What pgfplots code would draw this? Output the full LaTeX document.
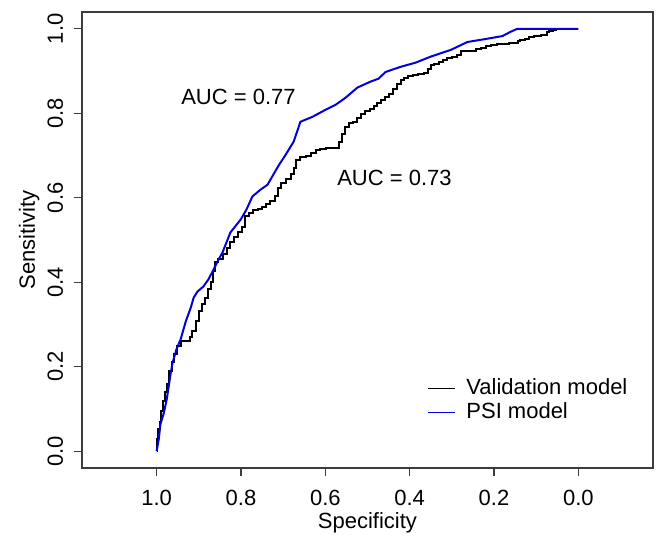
\documentclass[border=0pt]{standalone}
\usepackage{fontspec}
\setmainfont{Liberation Sans}
\usepackage{pgfplots}
\pgfplotsset{compat=1.18}

\definecolor{psiblue}{RGB}{0,0,215}
\definecolor{boxgray}{RGB}{60,60,60}

% ROC curves (specificity, sensitivity)
\pgfplotstableread{
spec sens
1.000 0.000
0.998 0.028
0.995 0.052
0.991 0.069
0.988 0.095
0.983 0.118
0.979 0.139
0.972 0.158
0.967 0.189
0.962 0.210
0.955 0.229
0.948 0.248
0.938 0.260
0.924 0.260
0.919 0.270
0.912 0.284
0.903 0.307
0.896 0.333
0.889 0.348
0.882 0.362
0.874 0.383
0.870 0.400
0.865 0.426
0.860 0.447
0.848 0.454
0.836 0.466
0.829 0.480
0.822 0.496
0.813 0.506
0.801 0.518
0.794 0.530
0.787 0.558
0.777 0.565
0.765 0.572
0.754 0.574
0.744 0.579
0.735 0.586
0.725 0.593
0.716 0.605
0.709 0.624
0.699 0.634
0.687 0.645
0.678 0.657
0.671 0.671
0.666 0.690
0.652 0.697
0.640 0.700
0.628 0.707
0.616 0.712
0.607 0.716
0.588 0.719
0.571 0.719
0.564 0.733
0.557 0.752
0.550 0.768
0.540 0.778
0.528 0.780
0.521 0.790
0.512 0.799
0.502 0.806
0.488 0.811
0.481 0.818
0.472 0.825
0.462 0.832
0.453 0.839
0.443 0.846
0.434 0.858
0.424 0.870
0.417 0.879
0.408 0.884
0.398 0.889
0.386 0.891
0.374 0.894
0.358 0.896
0.353 0.905
0.348 0.915
0.336 0.917
0.325 0.922
0.315 0.927
0.306 0.931
0.294 0.934
0.282 0.939
0.273 0.948
0.249 0.948
0.237 0.953
0.225 0.955
0.213 0.960
0.201 0.962
0.185 0.965
0.145 0.967
0.142 0.972
0.133 0.974
0.121 0.976
0.114 0.981
0.097 0.983
0.078 0.986
0.073 0.993
0.064 0.995
0.055 0.998
0.050 1.000
0.000 1.000
}\validation

\pgfplotstableread{
spec sens
1.000 0.000
0.995 0.028
0.991 0.064
0.983 0.090
0.976 0.123
0.967 0.182
0.962 0.210
0.953 0.241
0.943 0.265
0.931 0.307
0.919 0.340
0.912 0.364
0.903 0.378
0.889 0.390
0.877 0.407
0.865 0.430
0.853 0.454
0.844 0.470
0.825 0.518
0.801 0.548
0.787 0.572
0.773 0.603
0.754 0.619
0.737 0.631
0.711 0.676
0.694 0.702
0.675 0.733
0.659 0.780
0.630 0.792
0.604 0.806
0.576 0.820
0.552 0.837
0.524 0.861
0.493 0.875
0.474 0.882
0.457 0.898
0.422 0.910
0.386 0.920
0.351 0.934
0.303 0.950
0.263 0.969
0.220 0.976
0.180 0.983
0.161 0.993
0.145 1.000
0.000 1.000
}\psi

\begin{document}
\fontsize{11}{13}\selectfont
\begin{tikzpicture}
\path[use as bounding box] (-41pt,-34.5pt) rectangle (289.5pt,234pt);
\begin{axis}[
  at={(0,0)}, anchor=south west,
  scale only axis, width=285.5pt, height=228pt,
  x dir=reverse,
  xmin=-0.177, xmax=1.177, ymin=-0.04, ymax=1.04,
  xtick={0,0.2,0.4,0.6,0.8,1}, ytick={0,0.2,0.4,0.6,0.8,1},
  xticklabels={0.0,0.2,0.4,0.6,0.8,1.0},
  yticklabels={0.0,0.2,0.4,0.6,0.8,1.0},
  tick align=outside, tick pos=left, major tick length=3.75pt,
  axis line style={boxgray, line width=0.6pt},
  tick style={boxgray, line width=0.6pt},
  xticklabel style={anchor=base, yshift=-14.75pt},
  yticklabel style={xshift=-5.75pt, rotate=90, anchor=base},
  xlabel={Specificity}, ylabel={Sensitivity},
  xlabel style={at={(axis description cs:0.5,-0.1316)}, anchor=base},
  ylabel style={at={(axis description cs:-0.0823,0.5)}, anchor=base},
  legend cell align=left,
  legend style={draw=none, fill=none, at={(axis description cs:0.5946,0.2116)},
    anchor=north west, column sep=4.5pt, row sep=0pt,
    nodes={inner sep=0.75pt, text height=8.5pt, text depth=2pt}},
  legend image code/.code={\draw[#1, line width=0.5pt] (0pt,-0.5pt) -- (13.5pt,-0.5pt);},
]
\addplot[black, line width=1pt, const plot mark mid] table[x=spec, y=sens] {\validation};
\addlegendentry{Validation model}
\addplot[psiblue, line width=1pt, line join=round] table[x=spec, y=sens] {\psi};
\addlegendentry{PSI model}
\node at (axis cs:0.806,0.840) {AUC = 0.77};
\node at (axis cs:0.436,0.647) {AUC = 0.73};
\end{axis}
\end{tikzpicture}
\end{document}
